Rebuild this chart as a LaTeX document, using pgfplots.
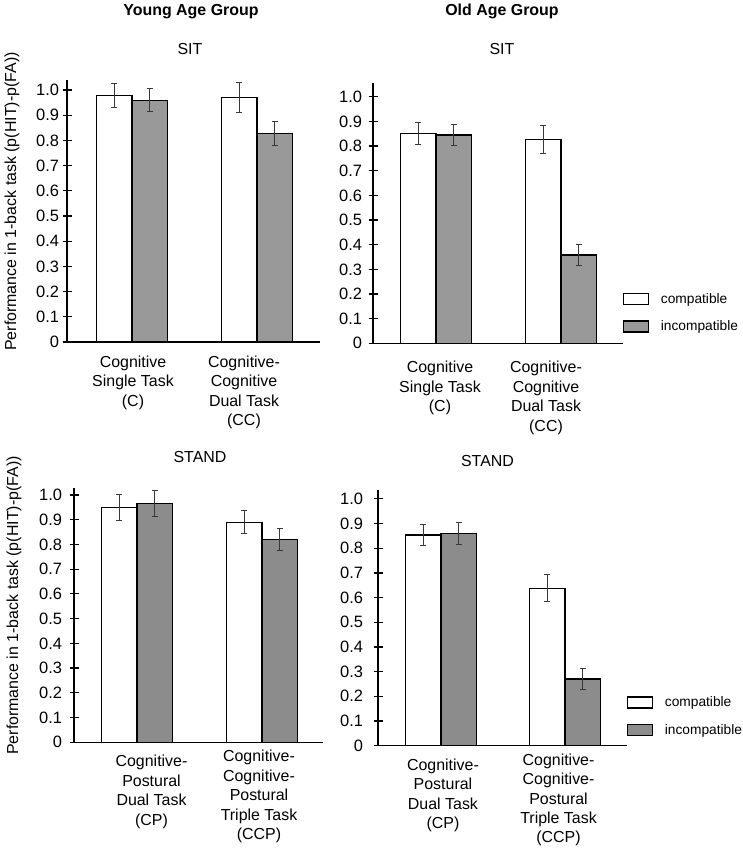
\documentclass[border=0pt]{standalone}
\usepackage{fontspec}
\setmainfont{Liberation Sans}
\usepackage{pgfplots}
\pgfplotsset{compat=1.18}

\definecolor{barA}{gray}{0.6}
\definecolor{barB}{gray}{0.55}
\definecolor{errc}{gray}{0.22}

\pgfplotsset{
  panel/.style={
    scale only axis,
    anchor=south west,
    ybar=0pt,
    bar width=35.5bp,
    ymin=0,
    axis x line*=bottom,
    axis y line*=left,
    axis line style={line width=1.3bp, black, -},
    ytick={0,0.1,0.2,0.3,0.4,0.5,0.6,0.7,0.8,0.9,1.0},
    yticklabels={0,0.1,0.2,0.3,0.4,0.5,0.6,0.7,0.8,0.9,1.0},
    tick align=center,
    major tick length=9bp,
    ytick style={line width=1.2bp, black},
    xtick style={draw=none},
    /pgf/number format/assume math mode=true,
    tick label style={font=\fontsize{16.5}{19.5}\selectfont},
    xticklabel style={align=center, anchor=north, font=\fontsize{16}{19.5}\selectfont},
    legend image code/.code={\draw[##1, line width=1.2bp] (0bp,-5.5bp) rectangle (25bp,5.5bp);},
    legend cell align=left,
  },
  wbar/.style={fill=white, draw=black, line width=1.2bp,
    error bars/.cd, y dir=both, y explicit,
    error bar style={errc, line width=0.9bp},
    error mark options={rotate=90, mark size=3bp, errc, line width=0.9bp}},
  gbar/.style={fill=#1, draw=black, line width=1.2bp,
    error bars/.cd, y dir=both, y explicit,
    error bar style={errc, line width=0.9bp},
    error mark options={rotate=90, mark size=3bp, errc, line width=0.9bp}},
  leg/.style={legend style={draw=none, fill=none, inner sep=0pt,
    at={(axis description cs:1,#1)}, anchor=north west,
    font=\fontsize{13.8}{16}\selectfont, row sep=12bp,
    /tikz/every odd column/.append style={column sep=9.5bp}}},
}

\begin{document}
\begin{tikzpicture}
\useasboundingbox (0,0) rectangle (743bp,849bp);

% titles
\node[anchor=base, font=\bfseries\fontsize{16}{19}\selectfont] at (191bp,833bp) {Young Age Group};
\node[anchor=base, font=\bfseries\fontsize{16}{19}\selectfont] at (502bp,833bp) {Old Age Group};
\node[anchor=base, font=\fontsize{16}{19}\selectfont] at (190bp,794bp) {SIT};
\node[anchor=base, font=\fontsize{16}{19}\selectfont] at (502bp,794bp) {SIT};
\node[anchor=base, font=\fontsize{16}{19}\selectfont] at (200bp,386.7bp) {STAND};
\node[anchor=base, font=\fontsize{16}{19}\selectfont] at (487.5bp,382.3bp) {STAND};
\node[anchor=base, rotate=90, font=\fontsize{16}{19}\selectfont] at (16bp,647.5bp) {Performance in 1-back task (p(HIT)-p(FA))};
\node[anchor=base, rotate=90, font=\fontsize{16}{19}\selectfont] at (18bp,243.5bp) {Performance in 1-back task (p(HIT)-p(FA))};

% Panel 1: young, SIT
\begin{axis}[panel, at={(67bp,507bp)}, width=253bp, height=262bp,
  xmin=0.48, xmax=2.504, ymax=1.04,
  xticklabel style={yshift=-6bp},
  xtick={1.008}, xticklabels={{Cognitive\\Single Task\\(C)}},
  extra x ticks={1.896}, extra x tick labels={{Cognitive-\\Cognitive\\Dual Task\\(CC)}}]
\addplot[wbar] coordinates {(1,0.98) +- (0,0.048) (2,0.97) +- (0,0.060)};
\addplot[gbar=barA] coordinates {(1,0.96) +- (0,0.046) (2,0.828) +- (0,0.046)};
\end{axis}

% Panel 2: old, SIT
\begin{axis}[panel, at={(373bp,505.7bp)}, width=250bp, height=260.3bp,
  xmin=0.496, xmax=2.496, ymax=1.056,
  yticklabel style={xshift=-3bp},
  xticklabel style={yshift=-10bp},
  xtick={1.032}, xticklabels={{Cognitive\\Single Task\\(C)}},
  extra x ticks={1.880}, extra x tick labels={{Cognitive-\\Cognitive\\Dual Task\\(CC)}},
  leg={0.2}]
\addplot[wbar] coordinates {(1,0.852) +- (0,0.044) (2,0.827) +- (0,0.056)};
\addlegendentry{compatible}
\addplot[gbar=barA] coordinates {(1,0.845) +- (0,0.043) (2,0.358) +- (0,0.042)};
\addlegendentry{incompatible}
\end{axis}

% Panel 3: young, STAND
\begin{axis}[panel, at={(74bp,106.7bp)}, width=249bp, height=254.3bp,
  xmin=0.496, xmax=2.488, ymax=1.028,
  yticklabel style={xshift=-4bp},
  xticklabel style={yshift=-5bp},
  extra x tick style={xticklabel style={yshift=5bp}},
  xtick={1.116}, xticklabels={{Cognitive-\\Postural\\Dual Task\\(CP)}},
  extra x ticks={1.976}, extra x tick labels={{Cognitive-\\Cognitive-\\Postural\\Triple Task\\(CCP)}}]
\addplot[wbar] coordinates {(1,0.949) +- (0,0.054) (2,0.890) +- (0,0.047)};
\addplot[gbar=barB] coordinates {(1,0.965) +- (0,0.052) (2,0.821) +- (0,0.044)};
\end{axis}

% Panel 4: old, STAND
\begin{axis}[panel, at={(378bp,103.3bp)}, width=249bp, height=255.7bp,
  xmin=0.492, xmax=2.500, ymax=1.036,
  yticklabel style={xshift=-7bp},
  xticklabel style={yshift=-5bp},
  extra x tick style={xticklabel style={yshift=5bp}},
  xtick={1.016}, xticklabels={{Cognitive-\\Postural\\Dual Task\\(CP)}},
  extra x ticks={1.948}, extra x tick labels={{Cognitive-\\Cognitive-\\Postural\\Triple Task\\(CCP)}},
  leg={0.2}]
\addplot[wbar] coordinates {(1,0.854) +- (0,0.044) (2,0.638) +- (0,0.055)};
\addlegendentry{compatible}
\addplot[gbar=barB] coordinates {(1,0.861) +- (0,0.045) (2,0.270) +- (0,0.042)};
\addlegendentry{incompatible}
\end{axis}
\end{tikzpicture}
\end{document}
